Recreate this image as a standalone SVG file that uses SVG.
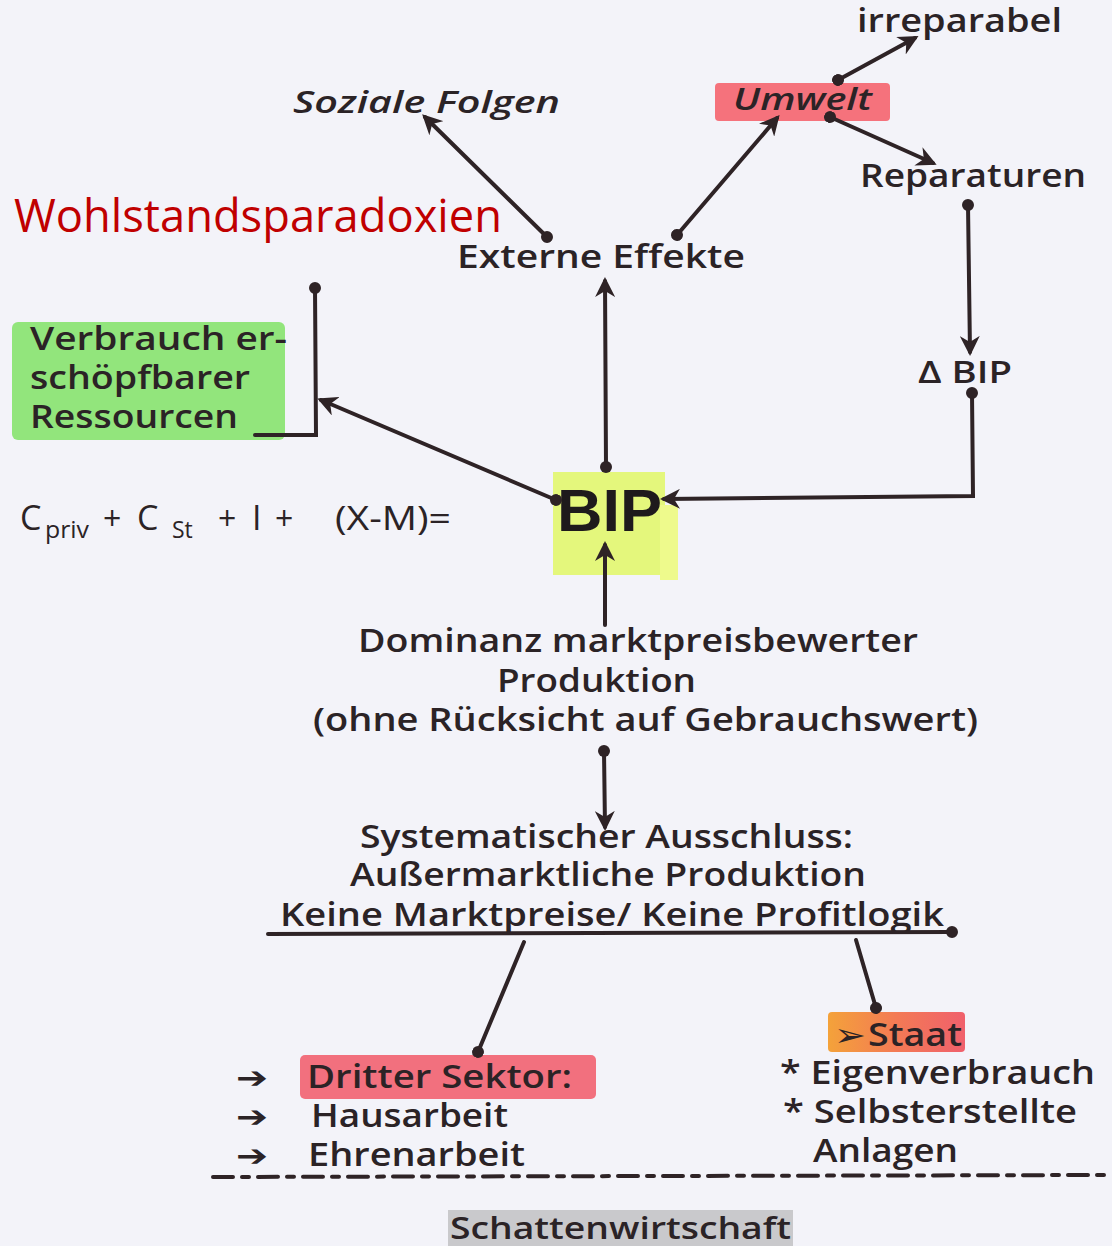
<svg xmlns="http://www.w3.org/2000/svg" width="1112" height="1246" viewBox="0 0 1112 1246">
<style>
.t{font-family:"Open Sans","DejaVu Sans",sans-serif;font-weight:600;fill:#2b2326;}
.c{font-family:"Open Sans","DejaVu Sans",sans-serif;font-weight:500;fill:#2b2326;}
.i{font-style:italic;font-weight:600;}
.ar{font-family:"DejaVu Sans",sans-serif;font-weight:700;fill:#2b2326;}
.ln{stroke:#2e2326;stroke-width:4;fill:none;stroke-linecap:round;}
</style>
<defs>
<marker id="ah" viewBox="0 0 10 10" refX="8" refY="5" markerWidth="5" markerHeight="5" orient="auto" markerUnits="strokeWidth">
<path d="M0,0 L10,5 L0,10 L3,5 Z" fill="#2e2326"/>
</marker>
<marker id="dot" viewBox="0 0 10 10" refX="5" refY="5" markerWidth="3" markerHeight="3" orient="auto" markerUnits="strokeWidth">
<circle cx="5" cy="5" r="5" fill="#2e2326"/>
</marker>
<linearGradient id="staatg" x1="0" x2="1" y1="0" y2="0">
<stop offset="0" stop-color="#f4a23a"/>
<stop offset="0.5" stop-color="#f37a55"/>
<stop offset="1" stop-color="#f0606c"/>
</linearGradient>
</defs>
<rect width="1112" height="1246" fill="#f3f3f9"/>

<text x="14" y="232" font-family="'Open Sans','Noto Sans',sans-serif" font-size="46" fill="#c00000" textLength="488" lengthAdjust="spacingAndGlyphs">Wohlstandsparadoxien</text>

<g id="soziale"><text class="t i" x="293" y="113" font-size="30" textLength="267" lengthAdjust="spacingAndGlyphs">Soziale Folgen</text></g>
<g id="umwelt"><rect x="715" y="83" width="175" height="38" fill="#f5727c" rx="4"/><text class="t i" x="733" y="110" font-size="30" textLength="139" lengthAdjust="spacingAndGlyphs">Umwelt</text></g>
<g id="irreparabel"><text class="t" x="857" y="32" font-size="32" textLength="205" lengthAdjust="spacingAndGlyphs">irreparabel</text></g>
<g id="reparaturen"><text class="t" x="860" y="187" font-size="32" textLength="226" lengthAdjust="spacingAndGlyphs">Reparaturen</text></g>
<g id="externe"><text class="t" x="457" y="268" font-size="32" textLength="288" lengthAdjust="spacingAndGlyphs">Externe Effekte</text></g>
<g id="verbrauch"><rect x="12" y="322" width="273" height="118" fill="#92e57c" rx="6"/>
<text class="t" x="30" y="350" font-size="32" textLength="257" lengthAdjust="spacingAndGlyphs">Verbrauch er-</text>
<text class="t" x="30" y="389" font-size="32" textLength="220" lengthAdjust="spacingAndGlyphs">schöpfbarer</text>
<text class="t" x="30" y="428" font-size="32" textLength="208" lengthAdjust="spacingAndGlyphs">Ressourcen</text></g>
<g id="deltabip"><text class="t" x="918" y="383" font-size="30" textLength="94" lengthAdjust="spacingAndGlyphs">Δ BIP</text></g>
<g id="bip"><rect x="553" y="472" width="112" height="103" fill="#e4f77c"/><rect x="660" y="505" width="18" height="75" fill="#eefa8c"/>
<text x="557" y="531" font-family="'Liberation Sans',sans-serif" font-weight="700" font-size="60" fill="#1e1a1c" textLength="105" lengthAdjust="spacingAndGlyphs">BIP</text></g>
<g id="formel">
<text class="c" x="20" y="530" font-size="34">C</text>
<text class="c" x="45" y="538" font-size="23" textLength="44" lengthAdjust="spacingAndGlyphs">priv</text>
<text class="c" x="103" y="530" font-size="32">+</text>
<text class="c" x="137" y="530" font-size="34">C</text>
<text class="c" x="172" y="538" font-size="23">St</text>
<text class="c" x="218" y="530" font-size="32">+</text>
<text class="c" x="252" y="530" font-size="34">I</text>
<text class="c" x="275" y="530" font-size="32">+</text>
<text class="c" x="335" y="530" font-size="32" textLength="116" lengthAdjust="spacingAndGlyphs">(X-M)=</text>
</g>
<g id="dominanz">
<text class="t" x="358" y="652" font-size="32" textLength="560" lengthAdjust="spacingAndGlyphs">Dominanz marktpreisbewerter</text>
<text class="t" x="497" y="692" font-size="32" textLength="199" lengthAdjust="spacingAndGlyphs">Produktion</text>
<text class="t" x="313" y="731" font-size="32" textLength="665" lengthAdjust="spacingAndGlyphs">(ohne Rücksicht auf Gebrauchswert)</text>
</g>
<g id="ausschluss">
<text class="t" x="360" y="848" font-size="32" textLength="493" lengthAdjust="spacingAndGlyphs">Systematischer Ausschluss:</text>
<text class="t" x="350" y="886" font-size="32" textLength="516" lengthAdjust="spacingAndGlyphs">Außermarktliche Produktion</text>
<text class="t" x="280" y="926" font-size="32" textLength="664" lengthAdjust="spacingAndGlyphs">Keine Marktpreise/ Keine Profitlogik</text>
</g>
<g id="dritter">
<rect x="300" y="1055" width="296" height="44" fill="#f2707e" rx="5"/>
<text class="t" x="307" y="1088" font-size="32" textLength="265" lengthAdjust="spacingAndGlyphs">Dritter Sektor:</text>
<text class="ar" x="236" y="1088" font-size="30" textLength="32" lengthAdjust="spacingAndGlyphs">➔</text>
<text class="ar" x="236" y="1127" font-size="30" textLength="32" lengthAdjust="spacingAndGlyphs">➔</text>
<text class="ar" x="236" y="1166" font-size="30" textLength="32" lengthAdjust="spacingAndGlyphs">➔</text>
<text class="t" x="311" y="1127" font-size="32" textLength="197" lengthAdjust="spacingAndGlyphs">Hausarbeit</text>
<text class="t" x="308" y="1166" font-size="32" textLength="217" lengthAdjust="spacingAndGlyphs">Ehrenarbeit</text>
</g>
<g id="staat">
<rect x="828" y="1012" width="137" height="40" fill="url(#staatg)" rx="4"/>
<text class="ar" x="834" y="1046" font-size="32" textLength="32" lengthAdjust="spacingAndGlyphs">➢</text>
<text class="t" x="868" y="1046" font-size="32" textLength="94" lengthAdjust="spacingAndGlyphs">Staat</text>
<text class="t" x="780" y="1084" font-size="32" textLength="315" lengthAdjust="spacingAndGlyphs">* Eigenverbrauch</text>
<text class="t" x="783" y="1123" font-size="32" textLength="294" lengthAdjust="spacingAndGlyphs">* Selbsterstellte</text>
<text class="t" x="813" y="1162" font-size="32" textLength="145" lengthAdjust="spacingAndGlyphs">Anlagen</text>
</g>
<g id="schatten">
<rect x="448" y="1210" width="345" height="36" fill="#c9c9cc"/>
<text class="t" x="450" y="1239" font-size="31" textLength="341" lengthAdjust="spacingAndGlyphs">Schattenwirtschaft</text>
</g>

<g id="connectors">
<line class="ln" x1="547" y1="237" x2="425" y2="117" marker-start="url(#dot)" marker-end="url(#ah)"/>
<line class="ln" x1="677" y1="235" x2="777" y2="118" marker-start="url(#dot)" marker-end="url(#ah)"/>
<line class="ln" x1="838" y1="80" x2="915" y2="38" marker-start="url(#dot)" marker-end="url(#ah)"/>
<line class="ln" x1="830" y1="117" x2="933" y2="163" marker-start="url(#dot)" marker-end="url(#ah)"/>
<line class="ln" x1="968" y1="205" x2="970" y2="352" marker-start="url(#dot)" marker-end="url(#ah)"/>
<polyline class="ln" points="972,393 973,496 664,499" marker-start="url(#dot)" marker-end="url(#ah)"/>
<line class="ln" x1="606" y1="467" x2="605" y2="281" marker-start="url(#dot)" marker-end="url(#ah)"/>
<line class="ln" x1="605" y1="625" x2="605" y2="545" marker-end="url(#ah)"/>
<line class="ln" x1="556" y1="500" x2="321" y2="400" marker-start="url(#dot)" marker-end="url(#ah)"/>
<polyline class="ln" points="315,288 316,435 255,435" marker-start="url(#dot)"/>
<line class="ln" x1="604" y1="751" x2="605" y2="827" marker-start="url(#dot)" marker-end="url(#ah)"/>
<line class="ln" x1="268" y1="934" x2="952" y2="932" marker-end="url(#dot)"/>
<line class="ln" x1="524" y1="942" x2="478" y2="1052" marker-end="url(#dot)"/>
<line class="ln" x1="856" y1="940" x2="876" y2="1008" marker-end="url(#dot)"/>
<line class="ln" x1="213" y1="1177" x2="1105" y2="1175" stroke-dasharray="20,9,7,9"/>
</g>
</svg>
